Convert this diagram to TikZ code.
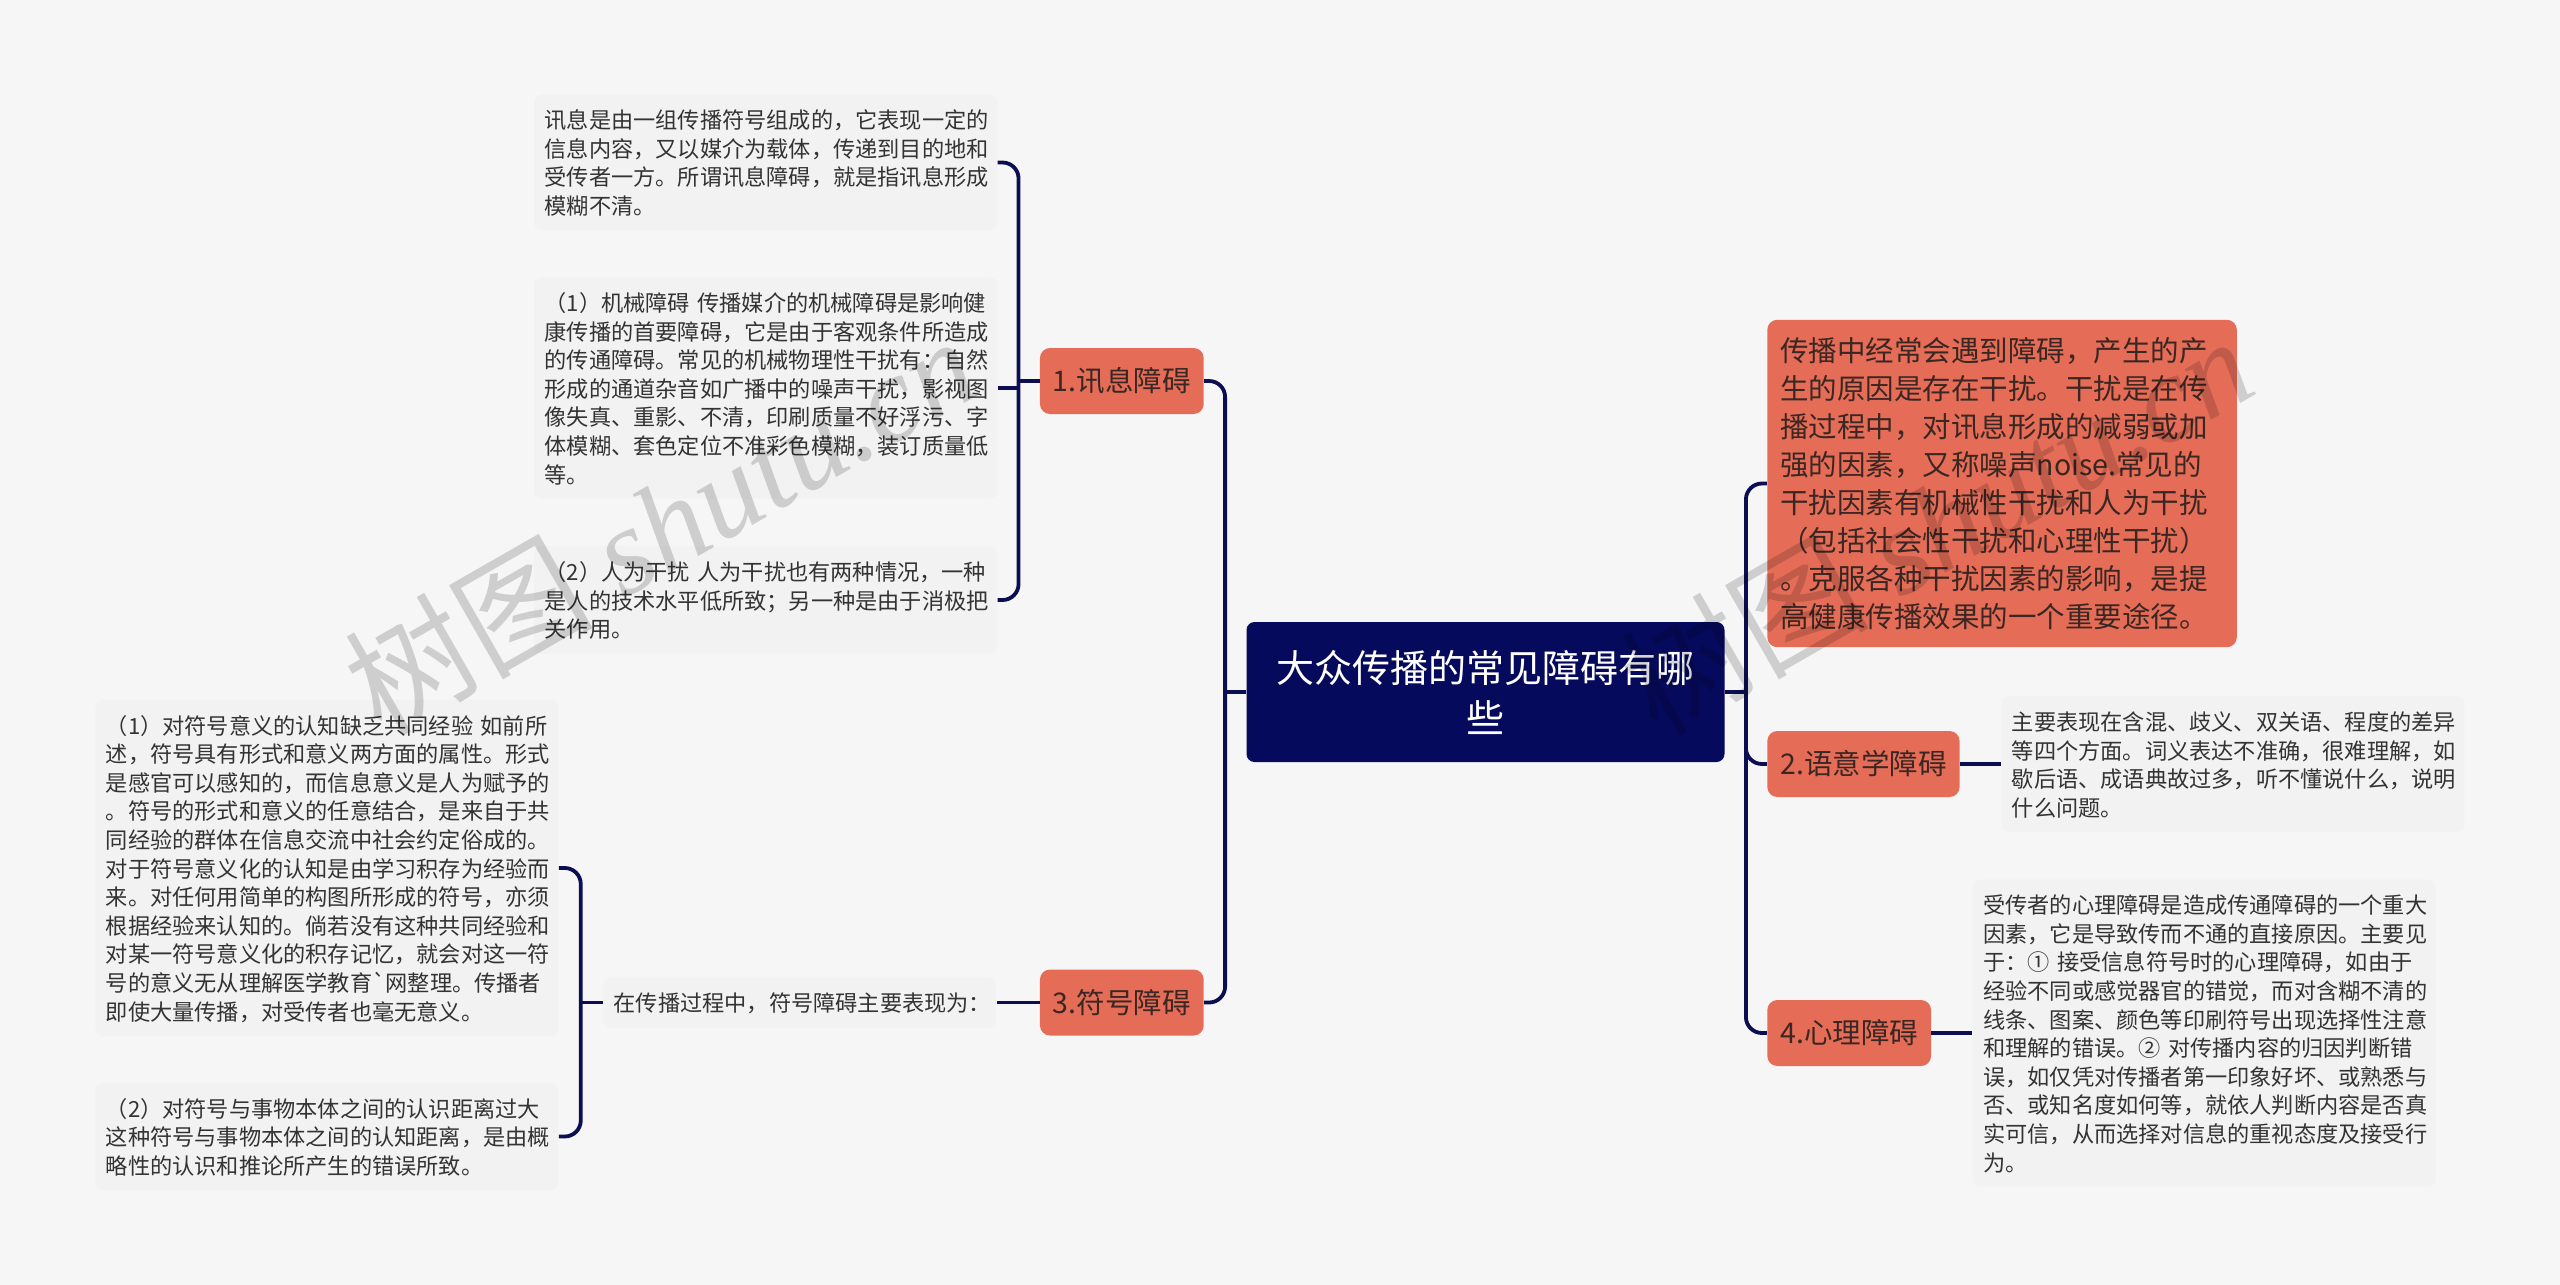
\documentclass[tikz,border=0pt]{standalone}
\usepackage{fontspec}
\usepackage{xcolor}
\usetikzlibrary{positioning}
\newfontfamily\cjk{Noto Sans CJK SC}
\setmainfont{Liberation Serif}
\definecolor{pagebg}{HTML}{F6F6F6}
\definecolor{leafbg}{HTML}{F2F2F2}
\definecolor{topicbg}{HTML}{E56D57}
\definecolor{rootbg}{HTML}{060A5C}
\definecolor{linkc}{HTML}{0B0F52}
\definecolor{leaftx}{HTML}{333333}
\definecolor{topictx}{HTML}{3A2622}

\begin{document}
\begin{tikzpicture}[node distance={21pt},
    root/.style = {fill=rootbg, text=white, rounded corners=4pt, align=center, text width=225pt, inner xsep=7pt, minimum height=70pt, font={\cjk\fontsize{19}{25}\selectfont}},
    topic/.style = {fill=topicbg, text=topictx, rounded corners=5pt, inner xsep=6.5pt, minimum height=33pt, font={\cjk\fontsize{14.25}{19}\selectfont}},
    para/.style = {topic, align=left, text width=221.75pt, inner ysep=8.75pt},
    leaf/.style = {fill=leafbg, text=leaftx, rounded corners=4pt, align=left, text width=221pt, inner xsep=5.25pt, inner ysep=6.9pt, execute at begin node={\rule{0pt}{10.2pt}}, font={\cjk\fontsize{11.1}{14.3}\selectfont}},
    link/.style = {draw=linkc, line width=1.9pt, rounded corners=8pt},
    wmark/.style = {text=black, opacity=0.16, rotate=29.8, font={\fontsize{62}{62}\selectfont\itshape}}]
    \useasboundingbox[fill=pagebg] (0,0) rectangle (1280pt,-642.5pt);

    \node[root] (n_0) at (742.75pt,-346pt) {大众传播的常见障碍有哪\\些};

    \node[topic, left=of n_0, yshift=155.5pt] (n_1) {1.讯息障碍};
    \node[topic, left=of n_0, yshift=-155.25pt] (n_3) {3.符号障碍};
    \node[para, right=of n_0, yshift=104.25pt] (n_g) {传播中经常会遇到障碍，产生的产\\生的原因是存在干扰。干扰是在传\\播过程中，对讯息形成的减弱或加\\强的因素，又称噪声noise.常见的\\干扰因素有机械性干扰和人为干扰\\（包括社会性干扰和心理性干扰）\\。克服各种干扰因素的影响，是提\\高健康传播效果的一个重要途径。};
    \node[topic, right=of n_0, yshift=-36pt] (n_2) {2.语意学障碍};
    \node[topic, right=of n_0, yshift=-170.5pt] (n_4) {4.心理障碍};

    \node[leaf, left=of n_1, yshift=109.25pt] (l_a) {讯息是由一组传播符号组成的，它表现一定的\\信息内容，又以媒介为载体，传递到目的地和\\受传者一方。所谓讯息障碍，就是指讯息形成\\模糊不清。};
    \node[leaf, left=of n_1, yshift=-3.5pt] (l_b) {（1）机械障碍 传播媒介的机械障碍是影响健\\康传播的首要障碍，它是由于客观条件所造成\\的传通障碍。常见的机械物理性干扰有：自然\\形成的通道杂音如广播中的噪声干扰，影视图\\像失真、重影、不清，印刷质量不好浮污、字\\体模糊、套色定位不准彩色模糊，装订质量低\\等。};
    \node[leaf, left=of n_1, yshift=-109.5pt] (l_c) {（2）人为干扰 人为干扰也有两种情况，一种\\是人的技术水平低所致；另一种是由于消极把\\关作用。};

    \node[leaf, left=21.5pt of n_3, text width=186pt] (l_f) {在传播过程中，符号障碍主要表现为：};
    \node[leaf, left=22pt of l_f, yshift=67.25pt] (l_d) {（1）对符号意义的认知缺乏共同经验 如前所\\述，符号具有形式和意义两方面的属性。形式\\是感官可以感知的，而信息意义是人为赋予的\\。符号的形式和意义的任意结合，是来自于共\\同经验的群体在信息交流中社会约定俗成的。\\对于符号意义化的认知是由学习积存为经验而\\来。对任何用简单的构图所形成的符号，亦须\\根据经验来认知的。倘若没有这种共同经验和\\对某一符号意义化的积存记忆，就会对这一符\\号的意义无从理解医学教育`网整理。传播者\\即使大量传播，对受传者也毫无意义。};
    \node[leaf, left=22pt of l_f, yshift=-67pt] (l_e) {（2）对符号与事物本体之间的认识距离过大\\这种符号与事物本体之间的认知距离，是由概\\略性的认识和推论所产生的错误所致。};

    \node[leaf, right=20.5pt of n_2] (l_h) {主要表现在含混、歧义、双关语、程度的差异\\等四个方面。词义表达不准确，很难理解，如\\歇后语、成语典故过多，听不懂说什么，说明\\什么问题。};
    \node[leaf, right=20.5pt of n_4] (l_i) {受传者的心理障碍是造成传通障碍的一个重大\\因素，它是导致传而不通的直接原因。主要见\\于：① 接受信息符号时的心理障碍，如由于\\经验不同或感觉器官的错觉，而对含糊不清的\\线条、图案、颜色等印刷符号出现选择性注意\\和理解的错误。② 对传播内容的归因判断错\\误，如仅凭对传播者第一印象好坏、或熟悉与\\否、或知名度如何等，就依人判断内容是否真\\实可信，从而选择对信息的重视态度及接受行\\为。};

    \coordinate[left=10.5pt of n_0] (j_l);
    \coordinate[right=10.5pt of n_0] (j_r);
    \coordinate[left=10.5pt of n_1] (j_1);
    \coordinate[left=11pt of l_f] (j_3);

    % main branches
    \draw[link] (n_1.east) -| (j_l) |- (n_3.east);
    \draw[link] (n_0.west) -- (j_l);
    \draw[link] (n_g.west) -| (j_r) |- (n_4.west);
    \draw[link] (n_0.east) -- (j_r);
    \draw[link] (j_r) |- (n_2.west);

    % leaves of 1
    \draw[link] (l_a.east) -| (j_1) |- (l_c.east);
    \draw[link] (l_b.east) -- (l_b.east -| j_1);
    \draw[link] (n_1.west) -- (j_1);

    % leaves of 3
    \draw[link] (n_3.west) -- (l_f.east);
    \draw[link] (l_d.east) -| (j_3) |- (l_e.east);
    \draw[link] (l_f.west) -- (j_3);

    % leaves of 2 and 4
    \draw[link] (n_2.east) -- (l_h.west);
    \draw[link] (n_4.east) -- (l_i.west);

    \node[wmark] (w_1) at (330pt,-262pt) {{\cjk 树图} shutu.cn};
    \node[wmark] (w_2) at (968pt,-262pt) {{\cjk 树图} shutu.cn};
\end{tikzpicture}
\end{document}
